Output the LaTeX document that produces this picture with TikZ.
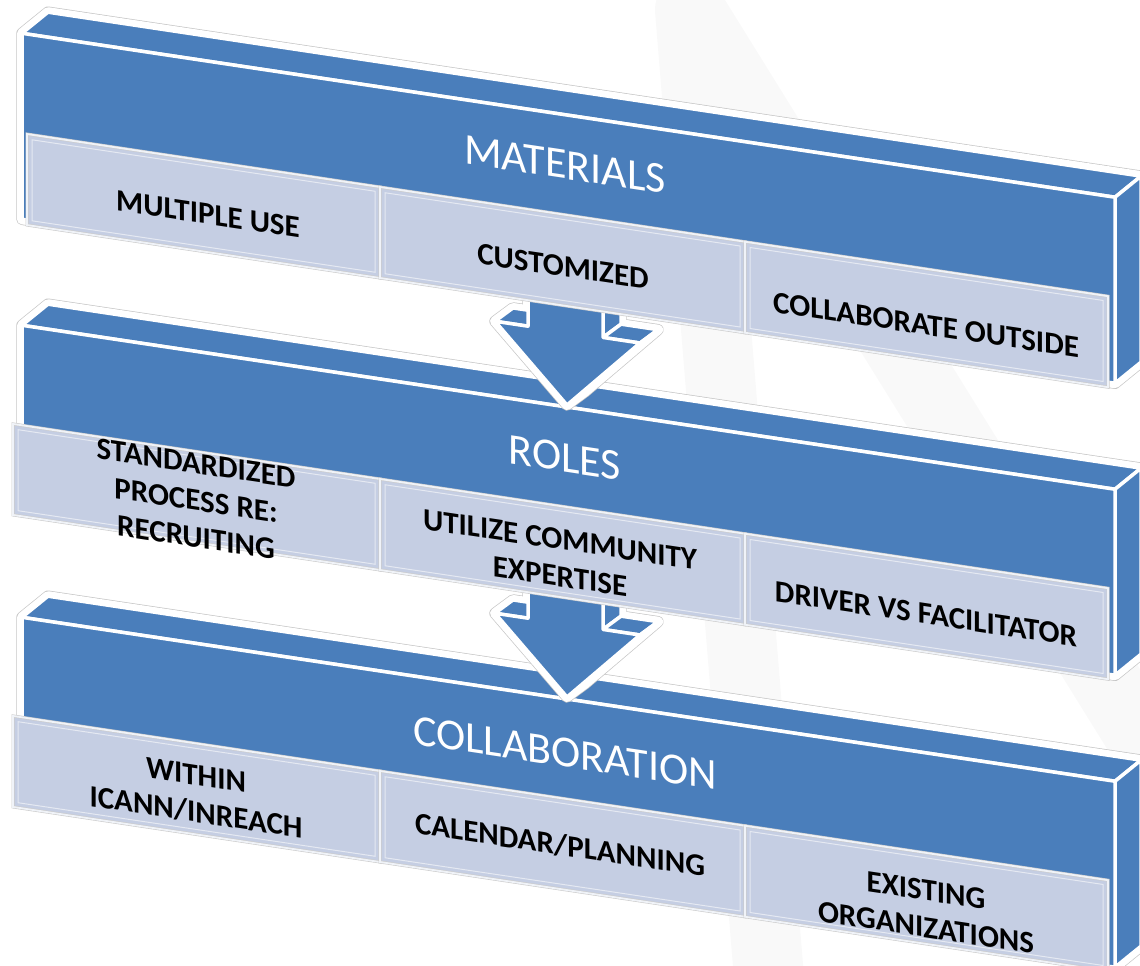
\documentclass[tikz,border=0pt]{standalone}
\usepackage{fontspec}
\setmainfont{Carlito}
\definecolor{barblue}{RGB}{74,126,187}
\definecolor{boxfill}{RGB}{197,206,227}
\tikzset{
  face/.style={fill=barblue, draw=white, line width=3.5pt, line join=round},
  rim/.style={draw=gray!45, line width=0.7pt, double=white, double distance=10pt, line join=round},
  cell/.style={fill=boxfill, draw=gray!40, line width=0.6pt, double=white!75!boxfill, double distance=1.8pt},
  cellrim/.style={draw=white!55!boxfill, line width=1pt},
  bartitle/.style={text=white, inner sep=0pt, font=\fontsize{44}{46}\selectfont, transform shape},
  celltext/.style={text=black, inner sep=0pt, font=\fontsize{31}{37}\selectfont\bfseries, align=center, transform shape},
}
\begin{document}
\begin{tikzpicture}
\useasboundingbox (0,0) rectangle (1140pt,-966pt);
% faint watermark behind
\begin{scope}[x=1pt,y=-1pt]
\draw[gray!5, line width=70pt, line cap=round, line join=round] (770,990) -- (690,10) -- (1180,800);
\end{scope}
\begin{scope}[x=1pt, y=-1pt, cm={1,-0.15,0,1,(0,0)}]
% bars from bottom to top, each with the arrow that points to it
\foreach \t/\l in {614/13, 322/13, 30/27} {
  \draw[rim] (22,\t+186) -- (22,\t) -- (48,\t-25) -- (1141,\t-25) -- (1141,\t+161) -- (1115,\t+186) -- cycle;
  \draw[face] (22,\t) -- (48,\t-25) -- (1141,\t-25) -- (1115,\t) -- cycle;
  \draw[face] (1115,\t) -- (1141,\t-25) -- (1141,\t+161) -- (1115,\t+186) -- cycle;
  \draw[face] (22,\t) rectangle (1115,\t+186);
  \foreach \a/\b in {\l/380, 380/745, 745/1108} {
    \draw[cell] (\a,\t+100) rectangle (\b,\t+191);
    \draw[cellrim] (\a+5,\t+105) rectangle (\b-5,\t+186);
  }
  \ifnum\t>100
    \draw[rim] (528,\t-172) -- (528,\t-91) -- (513,\t-91) -- (495,\t-75) -- (567,\t-2) -- (585,\t-18)
      -- (658,\t-91) -- (621,\t-91) -- (621,\t-188) -- (603,\t-172) -- cycle;
    \draw[face] (603,\t-172) -- (603,\t-75) -- (621,\t-91) -- (621,\t-188) -- cycle;
    \draw[face] (495,\t-75) -- (528,\t-75) -- (546,\t-91) -- (513,\t-91) -- cycle;
    \draw[face] (603,\t-75) -- (640,\t-75) -- (658,\t-91) -- (621,\t-91) -- cycle;
    \draw[face] (567,\t-2) -- (640,\t-75) -- (658,\t-91) -- (585,\t-18) -- cycle;
    \draw[face] (528,\t-172) -- (528,\t-75) -- (495,\t-75) -- (567,\t-2) -- (640,\t-75)
      -- (603,\t-75) -- (603,\t-172) -- cycle;
  \fi
}
% titles
\node[bartitle] (materials) at (565,80) {MATERIALS};
\node[bartitle] (roles) at (565,373) {ROLES};
\node[bartitle] (collab) at (565,668) {COLLABORATION};
% cells
\node[celltext] (multiple) at (208,183) {MULTIPLE USE};
\node[celltext] (customized) at (563,182) {CUSTOMIZED};
\node[celltext] (outside) at (926,186) {COLLABORATE OUTSIDE};
\node[celltext] (recruiting) at (196,471) {STANDARDIZED\\PROCESS RE:\\RECRUITING};
\node[celltext] (expertise) at (560,474) {UTILIZE COMMUNITY\\EXPERTISE};
\node[celltext] (driver) at (926,475) {DRIVER VS FACILITATOR};
\node[celltext] (inreach) at (196,765) {WITHIN\\ICANN/INREACH};
\node[celltext] (calendar) at (560,761) {CALENDAR/PLANNING};
\node[celltext] (existing) at (926,770) {EXISTING\\ORGANIZATIONS};
\end{scope}
\end{tikzpicture}
\end{document}
